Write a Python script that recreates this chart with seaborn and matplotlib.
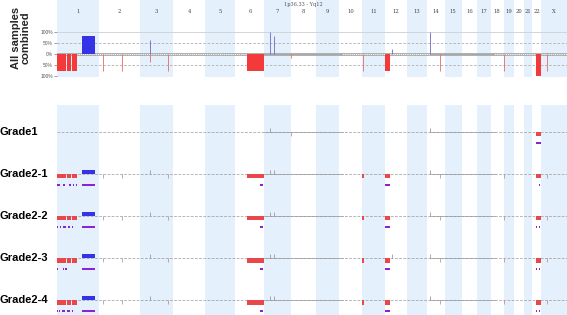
import numpy as np
import matplotlib
matplotlib.use("Agg")
import matplotlib.pyplot as plt
import seaborn as sns

# ---------------- data ----------------
CHROMS = ['1', '2', '3', '4', '5', '6', '7', '8', '9', '10', '11', '12',
          '13', '14', '15', '16', '17', '18', '19', '20', '21', '22', 'X']
CHROM_LEN = [249.3, 243.2, 198.0, 191.2, 180.9, 171.1, 159.1, 146.4, 141.2,
             135.5, 135.0, 133.9, 115.2, 107.3, 102.5, 90.4, 81.2, 78.1,
             59.1, 63.0, 48.1, 51.3, 155.3]
SHADED = ['1', '3', '5', '7', '9', '11', '13', '15', '17', '19', '21', 'X']
RANGE_TEXT = "1p36.33 - Yq12"

# combined panel (percent of samples)
TOP_GAIN_SEGS = [('1', 149, 226, 82)]
TOP_LOSS_SEGS = [('1', 0, 29, -77), ('1', 32, 53, -77), ('1', 57, 83, -77),
                 ('1', 88, 119, -77), ('6', 69, 170, -77), ('12', 1, 31, -77),
                 ('22', 21, 51, -100)]
TOP_GAIN_FOCAL = [('3', 61, 64), ('7', 34, 100), ('7', 58, 82),
                  ('12', 43, 22), ('14', 20, 100)]
TOP_LOSS_FOCAL = [('2', 25, -77), ('2', 138, -77), ('3', 61, -36),
                  ('3', 168, -77), ('8', 1, -18), ('11', 5, -77),
                  ('14', 80, -77), ('18', 77, -77), ('X', 36, -77)]
Y_TICKS = [100, 50, 0, -50, -100]
Y_TICK_LABELS = ['100%', '50%', '0%', '50%', '100%']

# regions where baseline is drawn solid (chrom, pos) -> (chrom, pos)
SOLID_BASE = [(('7', 0), ('10', 22)), (('14', 20), ('18', 26))]

# individual samples
ROWS = ['Grade1', 'Grade2-1', 'Grade2-2', 'Grade2-3', 'Grade2-4']
CHR1_LOSS = [('1', 0, 29), ('1', 32, 53), ('1', 57, 83), ('1', 88, 119)]
G2_LOSS = CHR1_LOSS + [('6', 69, 170), ('11', 2, 9), ('12', 1, 31),
                       ('22', 21, 51)]
ROW_LOSS = [[('22', 21, 51)], G2_LOSS, G2_LOSS, G2_LOSS, G2_LOSS]
G2_GAIN = [('1', 149, 226)]
ROW_GAIN = [[], G2_GAIN, G2_GAIN, G2_GAIN, G2_GAIN]
ROW_LOH = [
    [('22', 21, 51)],
    [('1', 0, 17), ('1', 36, 48), ('1', 71, 83), ('1', 95, 101),
     ('1', 113, 119), ('1', 149, 226), ('6', 146, 164), ('11', 3, 8),
     ('12', 1, 31), ('22', 42, 46)],
    [('1', 0, 6), ('1', 18, 24), ('1', 36, 54), ('1', 64, 78),
     ('1', 92, 97), ('1', 149, 226), ('6', 146, 164), ('11', 3, 8),
     ('12', 1, 31), ('22', 24, 28), ('22', 40, 44)],
    [('1', 0, 4), ('1', 10, 14), ('1', 36, 42), ('1', 48, 60),
     ('1', 88, 92), ('1', 149, 226), ('6', 146, 164), ('11', 3, 8),
     ('12', 1, 31), ('22', 24, 28), ('22', 40, 44)],
    [('1', 0, 6), ('1', 12, 16), ('1', 30, 48), ('1', 60, 78),
     ('1', 92, 97), ('1', 149, 226), ('6', 146, 164), ('11', 3, 8),
     ('12', 1, 31), ('22', 24, 28), ('22', 40, 44)],
]
G2_GAIN_TICKS = [('3', 61), ('7', 34), ('7', 58), ('14', 20)]
ROW_GAIN_TICKS = [[('7', 34), ('14', 20)], G2_GAIN_TICKS,
                  G2_GAIN_TICKS, G2_GAIN_TICKS + [('12', 43)], G2_GAIN_TICKS]
G2_LOSS_TICKS = [('2', 25), ('2', 138), ('3', 168), ('14', 80),
                 ('18', 77), ('X', 36)]
ROW_LOSS_TICKS = [[('8', 1)], G2_LOSS_TICKS, G2_LOSS_TICKS,
                  G2_LOSS_TICKS, G2_LOSS_TICKS]

# ---------------- style ----------------
sns.set_style("white")
plt.rcParams['font.family'] = ['Liberation Sans', 'DejaVu Sans']

BAND = '#e4f0fc'
RED = '#f23a3a'
RED_L = '#e8474c'
BLUE = '#3434e6'
PURPLE = '#8a22d8'
GRAY = '#9a9a9a'

offset = dict(zip(CHROMS, np.concatenate([[0], np.cumsum(CHROM_LEN)[:-1]])))
length = dict(zip(CHROMS, CHROM_LEN))
total = float(np.sum(CHROM_LEN))


def gx(c, p):
    return offset[c] + p


fig = plt.figure(figsize=(5.67, 3.15), dpi=100)
W, H = 567.0, 315.0
ax_top = fig.add_axes([57 / W, 1 - 77 / H, 1 - 57 / W, 77 / H])
ax_bot = fig.add_axes([57 / W, 0, 1 - 57 / W, 1 - 105 / H])

for ax in (ax_top, ax_bot):
    ax.set_xlim(0, total)
    for c in SHADED:
        ax.axvspan(offset[c], offset[c] + length[c], color=BAND, lw=0, zorder=0)
    sns.despine(ax=ax, left=True, bottom=True, top=True, right=True)
    ax.set_xticks([])

# ---- top panel ----
ax_top.set_ylim(-104.5, 245.5)
ax_top.axhline(100, color='#cfcfcf', lw=0.6, zorder=1)
for v in (50, -50):
    ax_top.axhline(v, color='#b0b0b0', lw=0.6, ls=(0, (3, 2)), zorder=1)
ax_top.axhline(0, color='#a8a8a8', lw=2.0, zorder=2)
# dotted part of zero line
edges = [0.0]
for (c1, p1), (c2, p2) in SOLID_BASE:
    edges += [gx(c1, p1), gx(c2, p2)]
edges.append(total)
for a, b in zip(edges[0::2], edges[1::2]):
    ax_top.plot([a, b], [0, 0], color='white', lw=0.7, ls=(0, (0.6, 1.6)),
                zorder=3, dash_capstyle='round')

for c, s, e, v in TOP_GAIN_SEGS:
    ax_top.bar(gx(c, s), v, width=e - s, align='edge', color=BLUE, lw=0, zorder=4)
for c, s, e, v in TOP_LOSS_SEGS:
    ax_top.bar(gx(c, s), v, width=e - s, align='edge', color=RED, lw=0, zorder=4)
for c, p, v in TOP_GAIN_FOCAL:
    ax_top.vlines(gx(c, p), 0, v, color='#6a6ac8', lw=0.6, zorder=4)
for c, p, v in TOP_LOSS_FOCAL:
    ax_top.vlines(gx(c, p), 0, v, color='#e86a6a', lw=0.6, zorder=4)

ax_top.set_yticks(Y_TICKS)
ax_top.set_yticklabels(Y_TICK_LABELS)
ax_top.tick_params(axis='y', labelsize=3.5, length=2, width=0.4, pad=1,
                   colors='#555555', left=True)
for c in CHROMS:
    ax_top.text(offset[c] + length[c] / 2, 195, c, ha='center', va='center',
                fontsize=3.8, color='#444444', family='DejaVu Serif')
ax_top.text(gx('8', 75), 226, RANGE_TEXT, ha='center', va='center',
            fontsize=3.6, color='#555555', family='DejaVu Serif')

# ---- bottom panel ----
ax_bot.set_ylim(4.357, -0.643)
ax_bot.set_yticks([])
for i, name in enumerate(ROWS):
    ax_bot.plot([0, total], [i, i], color=GRAY, lw=0.5, ls=(0, (4, 2)), zorder=1)
    for (c1, p1), (c2, p2) in SOLID_BASE:
        ax_bot.plot([gx(c1, p1), gx(c2, p2)], [i, i], color=GRAY, lw=0.5, zorder=1)
    for c, s, e in ROW_LOSS[i]:
        ax_bot.bar(gx(c, s), 0.107, bottom=i, width=e - s, align='edge',
                   color=RED_L, lw=0, zorder=3)
    for c, s, e in ROW_GAIN[i]:
        ax_bot.bar(gx(c, s), 0.107, bottom=i - 0.107, width=e - s, align='edge',
                   color=BLUE, lw=0, zorder=3)
    for c, s, e in ROW_LOH[i]:
        ax_bot.bar(gx(c, s), 0.05, bottom=i + 0.238, width=e - s, align='edge',
                   color=PURPLE, lw=0, zorder=3)
    for c, p in ROW_GAIN_TICKS[i]:
        ax_bot.vlines(gx(c, p), i - 0.09, i, color='#8a8a8a', lw=0.5, zorder=2)
    for c, p in ROW_LOSS_TICKS[i]:
        ax_bot.vlines(gx(c, p), i, i + 0.09, color='#c08080', lw=0.5, zorder=2)
    fig.text(0.0, 1 - (132 + 42 * i) / H, name, ha='left', va='center',
             fontsize=8, fontweight='bold', color='black')

fig.text(21 / W, 1 - 38 / H, "All samples\ncombined", rotation=90,
         ha='center', va='center', multialignment='center', fontsize=8,
         fontweight='bold', linespacing=1.0)

fig.savefig("out.png", dpi=100)
